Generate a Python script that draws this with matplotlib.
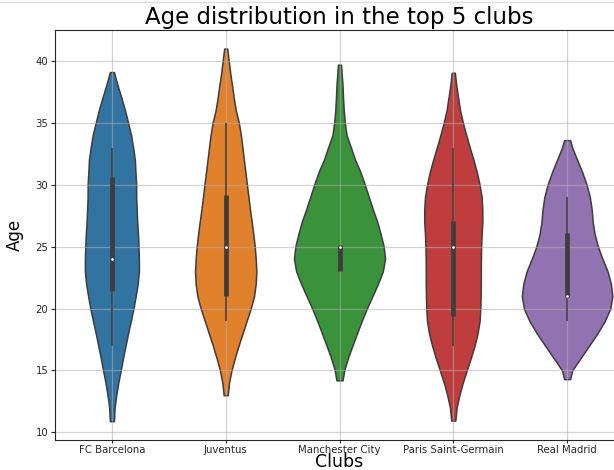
import matplotlib
matplotlib.use("Agg")
import matplotlib.pyplot as plt
from matplotlib.lines import Line2D
import numpy as np

clubs = ["FC Barcelona", "Juventus", "Manchester City", "Paris Saint-Germain", "Real Madrid"]
colors = ["#3274a1", "#e1812c", "#3a923a", "#c03d3e", "#9372b2"]

# violin outlines: ages and the relative density read at each age
barca_age = [10.9, 12, 13, 14, 15, 16, 17, 18, 19, 20, 21, 22, 23, 24, 25,
             26, 27, 28, 29, 30, 31, 32, 33, 34, 35, 36, 37, 38, 39.1]
barca_dens = [2, 2.7, 4.3, 6.3, 8.7, 11, 13.5, 16, 18.7, 21.3, 23.5, 25.5, 26.7, 26.7, 26.3,
              25.8, 25, 24.5, 24, 24, 23.3, 22.7, 21, 19, 16, 13, 9.5, 5.7, 2]

juve_age = [13.0, 14, 15, 16, 17, 18, 19, 20, 21, 22, 23, 24, 25, 26, 27,
            28, 29, 30, 31, 32, 33, 34, 35, 36, 37, 38, 39, 40, 41]
juve_dens = [2, 3.3, 5.7, 9, 12.7, 16.7, 20.7, 24.7, 28, 29.7, 30.3, 29.7, 28.7, 27.3, 25.7,
             24, 22.5, 21, 19.5, 18, 16.5, 15, 13, 10, 8, 6.3, 4.5, 3, 1.5]

city_age = [14.2, 15, 16, 17, 18, 19, 20, 21, 22, 23, 24, 25, 26, 27,
            28, 29, 30, 31, 32, 33, 34, 35, 36, 37, 38, 39.7]
city_dens = [3, 4.7, 8.3, 12.8, 17.3, 22, 27, 32.5, 38, 42.8, 45, 43.7, 40.7, 37.3,
             33, 29, 25, 20.8, 15.5, 11.3, 7, 5.3, 4.2, 3.5, 3, 1.5]

psg_age = [10.95, 12, 13, 14, 15, 16, 17, 18, 19, 20, 21, 22, 23, 24, 25,
           26, 27, 28, 29, 30, 31, 32, 33, 34, 35, 36, 37, 38, 39.05]
psg_dens = [2, 3.3, 6, 9.3, 13.3, 17.3, 21, 24, 26, 26.7, 27, 27.2, 27.2, 27.3, 27.5,
            28, 28.7, 28.7, 28, 26, 23.3, 20, 16.3, 12.8, 9.5, 6.7, 4.8, 3, 1.5]

real_age = [14.3, 15, 16, 17, 18, 19, 20, 21, 22, 23, 24, 25, 26, 27,
            28, 29, 30, 31, 32, 33, 33.6]
real_dens = [3, 5, 13.3, 21.7, 30, 37.3, 42.7, 44.7, 43.3, 40, 35, 30.5, 27.2, 25.3,
             24.3, 22.5, 19.3, 15, 10, 5, 3]

ages = [barca_age, juve_age, city_age, psg_age, real_age]
dens = [barca_dens, juve_dens, city_dens, psg_dens, real_dens]

# inner box plot statistics
q1 = [21.45, 21.0, 23.0, 19.4, 20.9]
q3 = [30.6, 29.2, 25.1, 27.1, 26.1]
median = [24, 25, 25, 25, 21]
whisker_lo = [17, 19, 23, 17, 19]
whisker_hi = [33, 35, 25, 33, 29]

gray = "#3d3d3d"

fig = plt.figure(figsize=(6.14, 4.70), dpi=100)
ax = fig.add_axes([55 / 614, 30 / 470, 569 / 614, 410 / 470])

top = max(max(d) for d in dens)
for i, club in enumerate(clubs):
    a = np.array(ages[i])
    hw = np.array(dens[i]) / top * 0.4
    ax.fill_betweenx(a, i - hw, i + hw, facecolor=colors[i], edgecolor=gray,
                     linewidth=1.1, zorder=1)
    ax.plot([i, i], [whisker_lo[i], whisker_hi[i]], color=gray, lw=1.1,
            solid_capstyle="butt", zorder=2)
    ax.plot([i, i], [q1[i], q3[i]], color=gray, lw=3.4,
            solid_capstyle="butt", zorder=2)
    ax.scatter([i], [median[i]], s=5, color="white", edgecolor=gray,
               linewidth=0.3, zorder=3)

ax.set_xlim(-0.5, 4.5)
ax.set_ylim(9.38, 42.5)
ax.set_xticks(range(len(clubs)))
ax.set_xticklabels(clubs)
ax.set_yticks([10, 15, 20, 25, 30, 35, 40])
ax.tick_params(labelsize=7.3, length=3, pad=1.8, colors="#262626")
ax.tick_params(axis="x", length=2.5, pad=1.2)
ax.grid(True, color="#b0b0b0", lw=0.9, alpha=0.55)
for s in ax.spines.values():
    s.set_color("#262626")

ax.set_title("Age distribution in the top 5 clubs", fontsize=16.5, pad=4)
ax.set_xlabel("Clubs", fontsize=12.5, va="baseline")
ax.xaxis.set_label_coords(0.5, -0.066)
ax.set_ylabel("Age", fontsize=12, family=["Liberation Sans Narrow", "DejaVu Sans"])
ax.yaxis.set_label_coords(-0.055, 0.5)

fig.add_artist(Line2D([0, 1], [1 - 2 / 470, 1 - 2 / 470], color="#dddddd", lw=1,
                      transform=fig.transFigure))

fig.savefig("out.png", dpi=100)
